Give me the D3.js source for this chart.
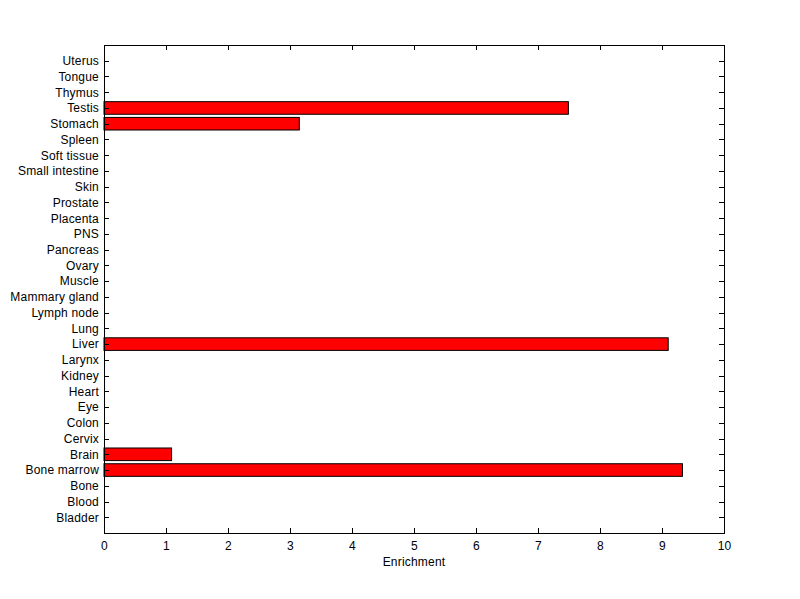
<!DOCTYPE html>
<html>
<head>
<meta charset="utf-8">
<script src="https://cdn.jsdelivr.net/npm/d3@7"></script>
<style>
  body { margin: 0; background: #fff; }
  svg text { font-family: "Liberation Sans", Arial, sans-serif; font-size: 12px; letter-spacing: 0.2px; fill: #000; }
</style>
</head>
<body>
<svg id="chart" width="800" height="599"></svg>
<script>
// --- Data ---
const tissues = ['Bladder', 'Blood', 'Bone', 'Bone marrow', 'Brain', 'Cervix', 'Colon', 'Eye',
  'Heart', 'Kidney', 'Larynx', 'Liver', 'Lung', 'Lymph node', 'Mammary gland', 'Muscle',
  'Ovary', 'Pancreas', 'PNS', 'Placenta', 'Prostate', 'Skin', 'Small intestine',
  'Soft tissue', 'Spleen', 'Stomach', 'Testis', 'Thymus', 'Tongue', 'Uterus'];
const enrichment = [0, 0, 0, 9.33, 1.09, 0, 0, 0, 0, 0, 0, 9.10, 0, 0, 0, 0,
  0, 0, 0, 0, 0, 0, 0, 0, 0, 3.15, 7.49, 0, 0, 0];
const xTicks = [0, 1, 2, 3, 4, 5, 6, 7, 8, 9, 10];

// --- Layout ---
const plotLeft = 104, plotRight = 724, plotTop = 45, plotBottom = 533;
const tickLen = 5;

const svg = d3.select('#chart');

const x = d3.scaleLinear().domain([0, 10]).range([plotLeft, plotRight]);
const y = d3.scaleLinear().domain([0, tissues.length + 1]).range([plotBottom, plotTop]);
const barH = Math.abs(y(0.8) - y(0));

// --- Bars ---
svg.append('g').selectAll('rect')
  .data(enrichment.map((v, i) => ({ v, i })).filter(d => d.v > 0))
  .join('rect')
  .attr('x', x(0))
  .attr('y', d => y(d.i + 1) - barH / 2)
  .attr('width', d => x(d.v) - x(0))
  .attr('height', barH)
  .attr('fill', '#ff0000')
  .attr('stroke', '#000')
  .attr('stroke-width', 1);

// --- Axes ---
const yPos = tissues.map((t, i) => i + 1);

svg.append('g')
  .attr('transform', `translate(${plotLeft},0)`)
  .call(d3.axisLeft(y).tickValues(yPos).tickFormat((d, i) => tissues[i]).tickSize(-tickLen).tickPadding(5))
  .call(g => g.select('.domain').remove());

svg.append('g')
  .attr('transform', `translate(${plotRight},0)`)
  .call(d3.axisRight(y).tickValues(yPos).tickFormat('').tickSize(-tickLen))
  .call(g => g.select('.domain').remove());

svg.append('g')
  .attr('transform', `translate(0,${plotBottom})`)
  .call(d3.axisBottom(x).tickValues(xTicks).tickFormat(d3.format('d')).tickSize(-tickLen).tickPadding(8))
  .call(g => g.select('.domain').remove());

svg.append('g')
  .attr('transform', `translate(0,${plotTop})`)
  .call(d3.axisTop(x).tickValues(xTicks).tickFormat('').tickSize(-tickLen))
  .call(g => g.select('.domain').remove());

svg.selectAll('.tick line').attr('stroke', '#000').attr('shape-rendering', 'crispEdges');
svg.selectAll('.tick text').style('font-size', null);
svg.selectAll('g').attr('font-size', null).attr('font-family', null);

// frame
svg.append('rect')
  .attr('x', plotLeft).attr('y', plotTop)
  .attr('width', plotRight - plotLeft).attr('height', plotBottom - plotTop)
  .attr('fill', 'none').attr('stroke', '#000')
  .attr('shape-rendering', 'crispEdges');

svg.append('text')
  .attr('x', (plotLeft + plotRight) / 2)
  .attr('y', 566)
  .attr('text-anchor', 'middle')
  .text('Enrichment');
</script>
</body>
</html>
